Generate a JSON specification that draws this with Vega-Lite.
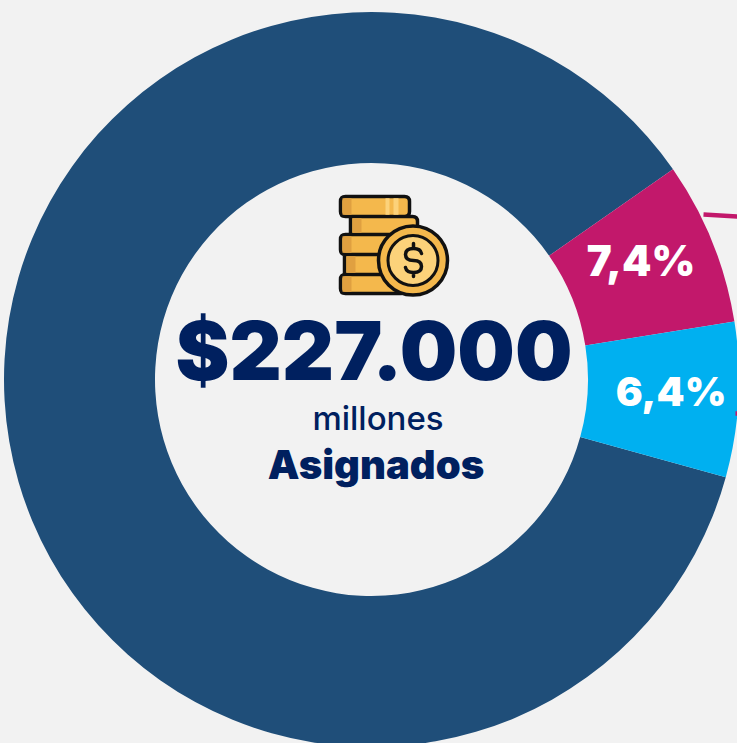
{
"$schema":"https://vega.github.io/schema/vega-lite/v6.json",
"width":731,"height":727,"autosize":"none",
"padding":{"left":6,"top":16,"right":0,"bottom":0},
"background":"#f2f2f2",
"config":{"view":{"stroke":null}},
"data":{"values":[
{"categoria":"Resto","pct":86.03,"orden":1,"label":""},
{"categoria":"Magenta","pct":7.17,"orden":2,"label":"7,4%"},
{"categoria":"Azul","pct":6.8,"orden":3,"label":"6,4%"}
]},
"layer":[
{"mark":{"type":"arc","outerRadius":367.5,"innerRadius":216.5},
"encoding":{
"theta":{"field":"pct","type":"quantitative","stack":true,"scale":{"range":[1.84,8.123]}},
"order":{"field":"orden"},
"color":{"field":"categoria","type":"nominal","legend":null,"scale":{"domain":["Resto","Magenta","Azul"],"range":["#1f4e79","#c2186b","#00b0f0"]}}
}},
{"mark":{"type":"text","radius":296,"dx":-5,"dy":-6,"font":"Inter","fontWeight":900,"fontSize":42,"fill":"#ffffff","baseline":"middle","align":"center"},
"encoding":{
"theta":{"field":"pct","type":"quantitative","stack":true},
"order":{"field":"orden"},
"text":{"condition":{"test":"datum.orden==2","field":"label"},"value":""}
}},
{"mark":{"type":"text","radius":296,"dx":4,"dy":-2,"font":"Inter","fontWeight":900,"fontSize":40,"fill":"#ffffff","baseline":"middle","align":"center"},
"encoding":{
"theta":{"field":"pct","type":"quantitative","stack":true},
"order":{"field":"orden"},
"text":{"condition":{"test":"datum.orden==3","field":"label"},"value":""}
}},
{"data":{"values":[{"t":"$227.000"}]},"mark":{"type":"text","font":"Inter","fontWeight":900,"fontSize":81,"fill":"#00205f","align":"center","baseline":"alphabetic","dx":2.5,"dy":0.5},"encoding":{"text":{"field":"t"}}},
{"data":{"values":[{"t":"millones"}]},"mark":{"type":"text","font":"Inter","fontWeight":500,"fontSize":33,"fill":"#00205f","align":"center","baseline":"alphabetic","dx":6.5,"dy":50.5},"encoding":{"text":{"field":"t"}}},
{"data":{"values":[{"t":"Asignados"}]},"mark":{"type":"text","font":"Inter","fontWeight":900,"fontSize":40,"fill":"#00205f","align":"center","baseline":"alphabetic","dx":4.5,"dy":99.5},"encoding":{"text":{"field":"t"}}},
{"data":{"values":[{"parte":"guia"}]},"mark":{"type":"point","size":4,"opacity":1,"filled":false,"stroke":"#c2186b","strokeWidth":4.5,"shape":"M332 -165 L366 -163 M364 34 L368 34"},"encoding":{}},
{"data":{"values":[{"parte":"monedas"}]},"mark":{"type":"point","size":4,"opacity":1,"filled":true,"fill":"#f4b84c","stroke":"#111111","strokeWidth":3.5,"strokeJoin":"round",
"shape":"M-26 -183 H33 Q38 -183 38 -178 V-168 Q38 -163 33 -163 H-26 Q-31 -163 -31 -168 V-178 Q-31 -183 -26 -183 Z M-21 -163 H41 Q46 -163 46 -158 V-150 Q46 -145 41 -145 H-21 Z M-26 -145 H25 V-125 H-26 Q-31 -125 -31 -130 V-140 Q-31 -145 -26 -145 Z M-27 -125 H25 V-105 H-27 Z M-26 -105 H30 V-86 H-26 Q-31 -86 -31 -91 V-100 Q-31 -105 -26 -105 Z"},"encoding":{}},
{"data":{"values":[{"parte":"brillo"}]},"mark":{"type":"point","size":4,"opacity":1,"filled":true,"fill":"#fcd27a","stroke":null,
"shape":"M14 -181.2 H18 V-164.8 H14 Z M22 -181.2 H27 V-164.8 H22 Z"},"encoding":{}},
{"data":{"values":[{"parte":"sombra"}]},"mark":{"type":"point","size":4,"opacity":1,"filled":true,"fill":"#e0a040","stroke":null,
"shape":"M-19 -161.2 H-10 V-146.8 H-19 Z M-29 -181.2 H-20 V-164.8 H-29 Z M-29 -143.2 H-20 V-126.8 H-29 Z M-25 -123.2 H-16 V-106.8 H-25 Z M-29 -103.2 H-20 V-87.8 H-29 Z"},"encoding":{}},
{"data":{"values":[{"parte":"moneda"}]},"mark":{"type":"point","size":4,"opacity":1,"filled":true,"fill":"#f4b84c","stroke":"#111111","strokeWidth":3.5,
"shape":"M7 -119 A34.500 34.500 0 1 0 76 -119 A34.500 34.500 0 1 0 7 -119 Z"},"encoding":{}},
{"data":{"values":[{"parte":"centro"}]},"mark":{"type":"point","size":4,"opacity":1,"filled":true,"fill":"#fcd27a","stroke":"#111111","strokeWidth":3,
"shape":"M16.500 -119 A25 25 0 1 0 66.500 -119 A25 25 0 1 0 16.500 -119 Z"},"encoding":{}},
{"data":{"values":[{"parte":"signo"}]},"mark":{"type":"point","size":4,"opacity":1,"filled":false,"stroke":"#111111","strokeWidth":3.5,"strokeCap":"round",
"shape":"M50 -126 Q49 -131 42 -131 Q34 -131 34 -125 Q34 -119 42 -119 Q50 -119 50 -113 Q50 -107 42 -107 Q35 -107 34 -112 M42 -136 V-131 M42 -107 V-103"},"encoding":{}}
]
}
